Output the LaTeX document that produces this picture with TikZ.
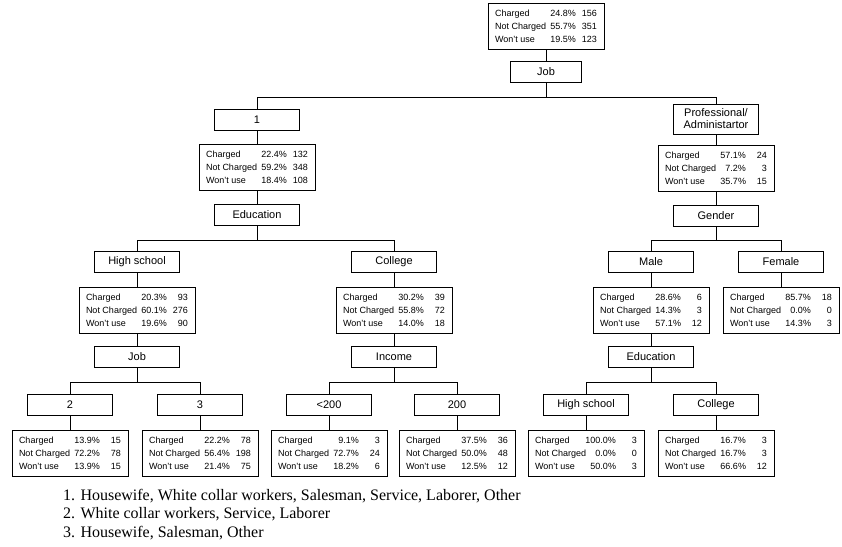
\documentclass[tikz,border=0pt]{standalone}
\usepackage{fontspec}
\setmainfont{Liberation Serif}
\setsansfont{Liberation Sans}
\usetikzlibrary{positioning}
\newcommand{\statrow}[3]{\makebox[54pt][l]{#1}\makebox[27pt][r]{#2}\makebox[21pt][r]{#3}}
\newcommand{\statlines}[6]{\statrow{Charged}{#1\%}{#2}\\\statrow{Not Charged}{#3\%}{#4}\\\statrow{Won't use}{#5\%}{#6}}
\tikzset{
  treebox/.style  = {draw, line width=1pt, font=\sffamily\fontsize{11}{12}\selectfont,
                     align=center, inner sep=2pt, minimum width=85pt, minimum height=21pt},
  statbox/.style  = {draw, line width=1pt, font=\sffamily\fontsize{9}{12.8}\selectfont,
                     align=left, inner xsep=7pt, inner ysep=3pt, minimum height=46pt},
  treeline/.style = {line width=1pt},
  notetext/.style = {font=\rmfamily\fontsize{16}{18.5}\selectfont, align=left, inner sep=0pt},
}

\begin{document}
\begin{tikzpicture}[x=1pt, y=-1pt, node distance=13pt]
    \useasboundingbox (0,0) rectangle (842,546);
    % root and first split
    \node[statbox] (top) at (546,26) {\statlines{24.8}{156}{55.7}{351}{19.5}{123}};
    \node[treebox, minimum width=71pt, below=11pt of top] (job) {Job};
    \node[treebox] (one) at (257,120) {1};
    \node[treebox, minimum height=30pt] (prof) at (716,119) {Professional/\\Administartor};
    \node[statbox, below=of one] (onestat) {\statlines{22.4}{132}{59.2}{348}{18.4}{108}};
    \node[statbox, below=10pt of prof] (profstat) {\statlines{57.1}{24}{7.2}{3}{35.7}{15}};
    \node[treebox, below=of onestat] (edu) {Education};
    \node[treebox, below=of profstat] (gender) {Gender};
    % second level
    \node[treebox] (high) at (137,262) {High school};
    \node[treebox] (coll) at (394,262) {College};
    \node[treebox] (male) at (651,262) {Male};
    \node[treebox] (female) at (781,262) {Female};
    \node[statbox, below=14pt of high] (highstat) {\statlines{20.3}{93}{60.1}{276}{19.6}{90}};
    \node[statbox, below=14pt of coll] (collstat) {\statlines{30.2}{39}{55.8}{72}{14.0}{18}};
    \node[statbox, below=14pt of male] (malestat) {\statlines{28.6}{6}{14.3}{3}{57.1}{12}};
    \node[statbox, below=14pt of female] (femalestat) {\statlines{85.7}{18}{0.0}{0}{14.3}{3}};
    \node[treebox, below=12pt of highstat] (subjob) {Job};
    \node[treebox, below=12pt of collstat] (income) {Income};
    \node[treebox, below=12pt of malestat] (subedu) {Education};
    % leaves
    \node[treebox] (two) at (70,404.5) {2};
    \node[treebox] (three) at (200,404.5) {3};
    \node[treebox] (under) at (329,404.5) {<200};
    \node[treebox] (over) at (457,404.5) {200};
    \node[treebox] (mhigh) at (586,404.5) {High school};
    \node[treebox] (mcoll) at (716,404.5) {College};
    \node[statbox, below=14pt of two] (twostat) {\statlines{13.9}{15}{72.2}{78}{13.9}{15}};
    \node[statbox, below=14pt of three] (threestat) {\statlines{22.2}{78}{56.4}{198}{21.4}{75}};
    \node[statbox, below=14pt of under] (understat) {\statlines{9.1}{3}{72.7}{24}{18.2}{6}};
    \node[statbox, below=14pt of over] (overstat) {\statlines{37.5}{36}{50.0}{48}{12.5}{12}};
    \node[statbox, below=14pt of mhigh] (mhighstat) {\statlines{100.0}{3}{0.0}{0}{50.0}{3}};
    \node[statbox, below=14pt of mcoll] (mcollstat) {\statlines{16.7}{3}{16.7}{3}{66.6}{12}};
    % connectors
    \draw[treeline] (top) -- (job);
    \draw[treeline] (job.south) -- ++(0,14.5) -| (one.north);
    \draw[treeline] (job.south) -- ++(0,14.5) -| (prof.north);
    \draw[treeline] (one) -- (onestat); \draw[treeline] (onestat) -- (edu);
    \draw[treeline] (prof) -- (profstat); \draw[treeline] (profstat) -- (gender);
    \draw[treeline] (edu.south) -- ++(0,14.5) -| (high.north);
    \draw[treeline] (edu.south) -- ++(0,14.5) -| (coll.north);
    \draw[treeline] (gender.south) -- ++(0,14) -| (male.north);
    \draw[treeline] (gender.south) -- ++(0,14) -| (female.north);
    \draw[treeline] (high) -- (highstat); \draw[treeline] (highstat) -- (subjob);
    \draw[treeline] (coll) -- (collstat); \draw[treeline] (collstat) -- (income);
    \draw[treeline] (male) -- (malestat); \draw[treeline] (malestat) -- (subedu);
    \draw[treeline] (female) -- (femalestat);
    \draw[treeline] (subjob.south) -- ++(0,14.5) -| (two.north);
    \draw[treeline] (subjob.south) -- ++(0,14.5) -| (three.north);
    \draw[treeline] (income.south) -- ++(0,14.5) -| (under.north);
    \draw[treeline] (income.south) -- ++(0,14.5) -| (over.north);
    \draw[treeline] (subedu.south) -- ++(0,14.5) -| (mhigh.north);
    \draw[treeline] (subedu.south) -- ++(0,14.5) -| (mcoll.north);
    \draw[treeline] (two) -- (twostat); \draw[treeline] (three) -- (threestat);
    \draw[treeline] (under) -- (understat); \draw[treeline] (over) -- (overstat);
    \draw[treeline] (mhigh) -- (mhighstat); \draw[treeline] (mcoll) -- (mcollstat);
    % footnotes
    \node[notetext, anchor=north west] (notes) at (63,489)
      {1. Housewife, White collar workers, Salesman, Service, Laborer, Other\\
       2. White collar workers, Service, Laborer\\
       3. Housewife, Salesman, Other};
  \end{tikzpicture}
\end{document}
